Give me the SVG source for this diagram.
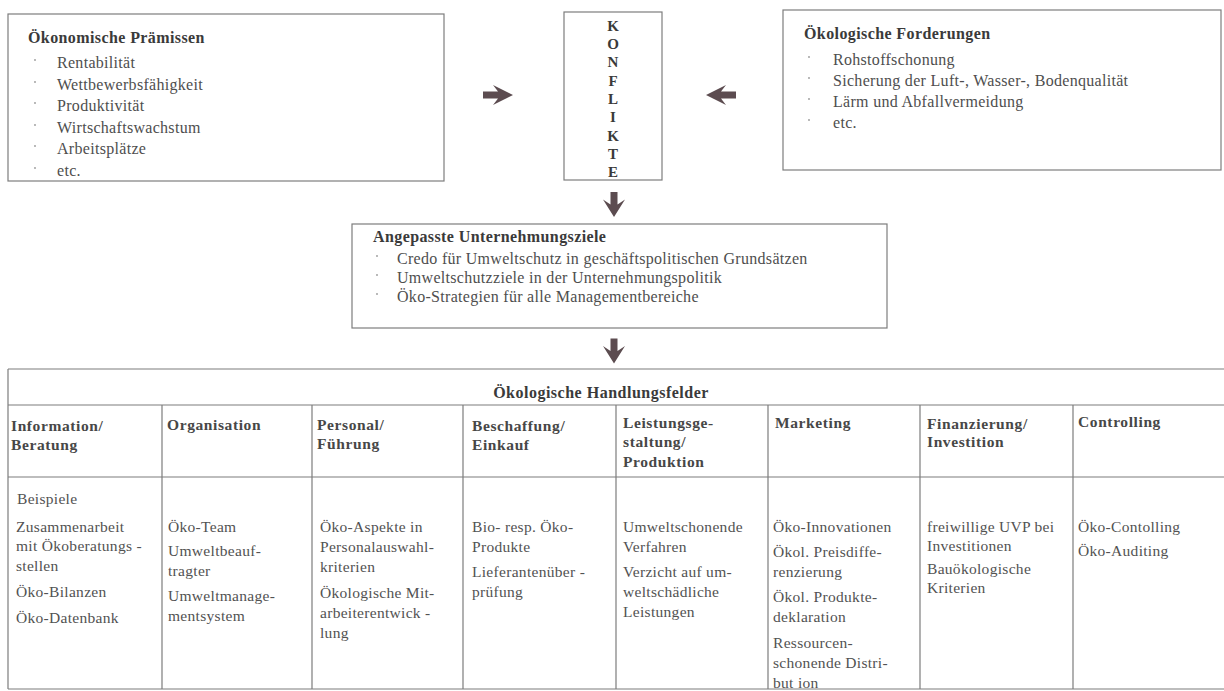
<svg xmlns="http://www.w3.org/2000/svg" width="1224" height="691" viewBox="0 0 1224 691">
<style>
.bg{fill:#ffffff}
.box{fill:#ffffff;stroke:#7d7d7d;stroke-width:1.2}
.ln{stroke:#7d7d7d;stroke-width:1.2;fill:none}
.t{font-family:"Liberation Serif","Times New Roman",serif;font-size:16px;fill:#4e4e4e;letter-spacing:0.3px}
.h{font-family:"Liberation Serif","Times New Roman",serif;font-size:16px;font-weight:bold;fill:#3a3a3a;letter-spacing:0.4px}
.ch{font-family:"Liberation Serif","Times New Roman",serif;font-size:15.5px;font-weight:bold;fill:#474747;letter-spacing:0.6px}
.b{font-family:"Liberation Serif","Times New Roman",serif;font-size:15.5px;fill:#525252;letter-spacing:0.3px}
.k{font-family:"Liberation Serif","Times New Roman",serif;font-size:15px;font-weight:bold;fill:#3a3a3a;text-anchor:middle}
.dot{fill:#999999}
.arr{fill:#5c4c50}
</style>
<defs>
<path id="arrR" d="M-15,-3.5 L0,-3.5 L-5,-10 L15,0 L-5,10 L0,3.5 L-15,3.5 Z"/>
<path id="arrD" d="M-3.5,-12.5 L3.5,-12.5 L3.5,0 L11,-5 L0,12.5 L-11,-5 L-3.5,0 Z"/>
</defs>
<rect class="bg" x="0" y="0" width="1224" height="691"/>

<g id="oekonomische-praemissen">
<rect class="box" x="8" y="14" width="436" height="167"/>
<text class="h" x="28" y="43">Ökonomische Prämissen</text>
<circle class="dot" cx="35" cy="60" r="0.9"/><text class="t" x="57" y="68">Rentabilität</text>
<circle class="dot" cx="35" cy="82" r="0.9"/><text class="t" x="57" y="90">Wettbewerbsfähigkeit</text>
<circle class="dot" cx="35" cy="103" r="0.9"/><text class="t" x="57" y="111">Produktivität</text>
<circle class="dot" cx="35" cy="125" r="0.9"/><text class="t" x="57" y="133">Wirtschaftswachstum</text>
<circle class="dot" cx="35" cy="146" r="0.9"/><text class="t" x="57" y="154">Arbeitsplätze</text>
<circle class="dot" cx="35" cy="168" r="0.9"/><text class="t" x="57" y="176">etc.</text>
</g>

<g id="konflikte">
<rect class="box" x="564" y="12" width="98" height="168"/>
<text class="k" x="613" y="30.5">K</text>
<text class="k" x="613" y="49">O</text>
<text class="k" x="613" y="67">N</text>
<text class="k" x="613" y="85.5">F</text>
<text class="k" x="613" y="104">L</text>
<text class="k" x="613" y="122">I</text>
<text class="k" x="613" y="140.5">K</text>
<text class="k" x="613" y="159">T</text>
<text class="k" x="613" y="177">E</text>
</g>

<g id="oekologische-forderungen">
<rect class="box" x="783" y="10" width="438" height="160"/>
<text class="h" x="804" y="39">Ökologische Forderungen</text>
<circle class="dot" cx="809" cy="57" r="0.9"/><text class="t" x="833" y="65">Rohstoffschonung</text>
<circle class="dot" cx="809" cy="78" r="0.9"/><text class="t" x="833" y="86">Sicherung der Luft-, Wasser-, Bodenqualität</text>
<circle class="dot" cx="809" cy="99" r="0.9"/><text class="t" x="833" y="107">Lärm und Abfallvermeidung</text>
<circle class="dot" cx="809" cy="120" r="0.9"/><text class="t" x="833" y="128">etc.</text>
</g>

<g id="angepasste-unternehmungsziele">
<rect class="box" x="352" y="224" width="535" height="104"/>
<text class="h" x="373" y="242">Angepasste Unternehmungsziele</text>
<circle class="dot" cx="377" cy="256" r="0.9"/><text class="t" x="397" y="264">Credo für Umweltschutz in geschäftspolitischen Grundsätzen</text>
<circle class="dot" cx="377" cy="275" r="0.9"/><text class="t" x="397" y="283">Umweltschutzziele in der Unternehmungspolitik</text>
<circle class="dot" cx="377" cy="294" r="0.9"/><text class="t" x="397" y="302">Öko-Strategien für alle Managementbereiche</text>
</g>

<g id="connectors">
<use href="#arrR" class="arr" transform="translate(498,95)"/>
<use href="#arrR" class="arr" transform="translate(721,95) scale(-1,1)"/>
<use href="#arrD" class="arr" transform="translate(614,204.5)"/>
<use href="#arrD" class="arr" transform="translate(614,351)"/>
</g>

<g id="oekologische-handlungsfelder">
<path class="ln" d="M8,369 H1224 M8,405 H1224 M8,477 H1224 M8,689 H1224 M8,369 V689 M162,405 V689 M312,405 V689 M463,405 V689 M616,405 V689 M768,405 V689 M920,405 V689 M1073,405 V689"/>
<text class="h" x="601" y="398" text-anchor="middle" style="letter-spacing:0.5px">Ökologische Handlungsfelder</text>

<text class="ch" x="11" y="431">Information/</text>
<text class="ch" x="11" y="450">Beratung</text>
<text class="ch" x="167" y="430">Organisation</text>
<text class="ch" x="317" y="430">Personal/</text>
<text class="ch" x="317" y="449">Führung</text>
<text class="ch" x="472" y="431">Beschaffung/</text>
<text class="ch" x="472" y="450">Einkauf</text>
<text class="ch" x="623" y="428">Leistungsge-</text>
<text class="ch" x="623" y="447">staltung/</text>
<text class="ch" x="623" y="467">Produktion</text>
<text class="ch" x="775" y="428">Marketing</text>
<text class="ch" x="927" y="429">Finanzierung/</text>
<text class="ch" x="927" y="447">Investition</text>
<text class="ch" x="1078" y="427">Controlling</text>

<text class="b" x="17" y="504">Beispiele</text>
<text class="b" x="16" y="532">Zusammenarbeit</text>
<text class="b" x="16" y="551">mit Ökoberatungs -</text>
<text class="b" x="16" y="571">stellen</text>
<text class="b" x="16" y="597">Öko-Bilanzen</text>
<text class="b" x="16" y="623">Öko-Datenbank</text>

<text class="b" x="168" y="532">Öko-Team</text>
<text class="b" x="168" y="556">Umweltbeauf-</text>
<text class="b" x="168" y="576">tragter</text>
<text class="b" x="168" y="601">Umweltmanage-</text>
<text class="b" x="168" y="621">mentsystem</text>

<text class="b" x="320" y="532">Öko-Aspekte in</text>
<text class="b" x="320" y="552">Personalauswahl-</text>
<text class="b" x="320" y="572">kriterien</text>
<text class="b" x="320" y="598">Ökologische Mit-</text>
<text class="b" x="320" y="618">arbeiterentwick -</text>
<text class="b" x="320" y="638">lung</text>

<text class="b" x="472" y="532">Bio- resp. Öko-</text>
<text class="b" x="472" y="552">Produkte</text>
<text class="b" x="472" y="577">Lieferantenüber -</text>
<text class="b" x="472" y="597">prüfung</text>

<text class="b" x="623" y="532">Umweltschonende</text>
<text class="b" x="623" y="552">Verfahren</text>
<text class="b" x="623" y="577">Verzicht auf  um-</text>
<text class="b" x="623" y="597">weltschädliche</text>
<text class="b" x="623" y="617">Leistungen</text>

<text class="b" x="773" y="532">Öko-Innovationen</text>
<text class="b" x="773" y="557">Ökol. Preisdiffe-</text>
<text class="b" x="773" y="577">renzierung</text>
<text class="b" x="773" y="602">Ökol. Produkte-</text>
<text class="b" x="773" y="622">deklaration</text>
<text class="b" x="773" y="648">Ressourcen-</text>
<text class="b" x="773" y="668">schonende Distri-</text>
<text class="b" x="773" y="688">but ion</text>

<text class="b" x="927" y="532">freiwillige UVP bei</text>
<text class="b" x="927" y="551">Investitionen</text>
<text class="b" x="927" y="574">Bauökologische</text>
<text class="b" x="927" y="593">Kriterien</text>

<text class="b" x="1078" y="532">Öko-Contolling</text>
<text class="b" x="1078" y="556">Öko-Auditing</text>
</g>
</svg>
